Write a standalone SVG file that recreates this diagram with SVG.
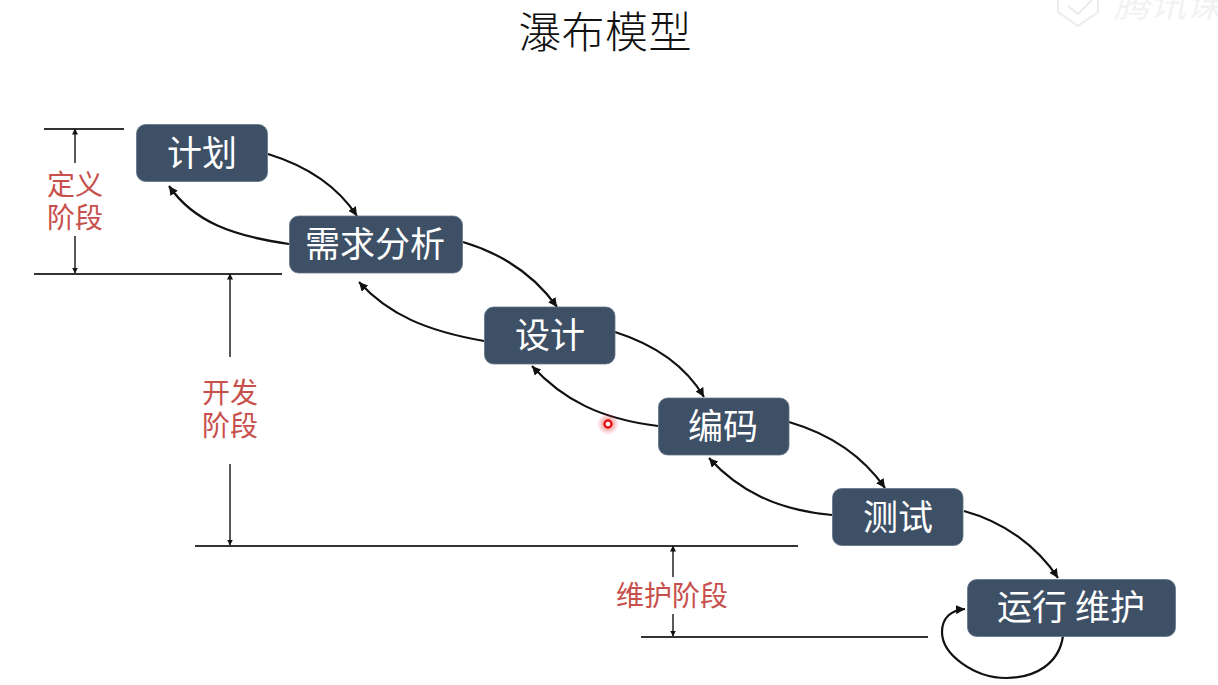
<svg xmlns="http://www.w3.org/2000/svg" width="1218" height="685" viewBox="0 0 1218 685">
<style>
text{font-family:"Noto Sans CJK SC","Liberation Sans",sans-serif}
.box{fill:#3d5066;stroke:#63758a;stroke-width:.8}
.nt{fill:#fff;font-size:35px;text-anchor:middle}
.lb{fill:#c8504c;font-size:28px;text-anchor:middle}
.con{fill:none;stroke:#111;stroke-width:2.2;marker-end:url(#a)}
.dim{fill:none;stroke:#222;stroke-width:1.5;marker-end:url(#b)}
.rule{fill:none;stroke:#333;stroke-width:1.8}
</style>
<defs>
<marker id="a" markerUnits="userSpaceOnUse" markerWidth="10" markerHeight="9" refX="9" refY="4.5" orient="auto"><path d="M0 0L9 4.5L0 9z" fill="#111"/></marker>
<marker id="b" markerUnits="userSpaceOnUse" markerWidth="6" markerHeight="6" refX="5.5" refY="3" orient="auto"><path d="M0 0L6 3L0 6z" fill="#111"/></marker>
<radialGradient id="g"><stop offset="0" stop-color="#f03030" stop-opacity=".7"/><stop offset="1" stop-color="#f03030" stop-opacity="0"/></radialGradient>
</defs>
<rect width="1218" height="685" fill="#fff"/>
<text id="title" x="605" y="48" font-size="43" letter-spacing=".4" font-weight="300" text-anchor="middle" fill="#111">瀑布模型</text>
<g id="watermark" fill="none" stroke="#ececec" stroke-width="2"><path d="M1058 0V12L1078 26L1098 12V0"/><path d="M1068 6L1078 14L1092 0"/>
<text x="1114" y="17" font-size="36" font-style="italic" fill="#f2f2f2" stroke="none">腾讯课</text></g>
<g id="connectors">
<path class="con" d="M268 154C307 166 338 187 357 216"/>
<path class="con" d="M289 244C233 236 194 222 169 186"/>
<path class="con" d="M463 242C503 254 535 276 557 307"/>
<path class="con" d="M484 341C427 331 389 315 359 282"/>
<path class="con" d="M615 332C653 344 685 365 704 397"/>
<path class="con" d="M658 426C601 419 563 400 532 366"/>
<path class="con" d="M789 422C830 434 862 455 885 488"/>
<path class="con" d="M832 515C777 510 739 491 709 458"/>
<path class="con" d="M964 511C1004 522 1037 546 1058 578"/>
<path class="con" d="M1063 636C1059 664 1035 678 1006 678C975 678 942 655 942 632C942 617 952 610 965 609"/>
</g>
<g id="dimensions">
<path class="rule" d="M44 129H124M34 274H282M195 546H798M641 637H928"/>
<path class="dim" d="M75 163V129"/>
<path class="dim" d="M75 236V273"/>
<path class="dim" d="M230 357V274"/>
<path class="dim" d="M230 464V545"/>
<path class="dim" d="M673 577V546"/>
<path class="dim" d="M673 614V636"/>
</g>
<g id="label-define"><text class="lb" x="75" y="195">定义</text><text class="lb" x="75" y="228">阶段</text></g>
<g id="label-develop"><text class="lb" x="230" y="403">开发</text><text class="lb" x="230" y="436">阶段</text></g>
<g id="label-maintain"><text class="lb" x="672" y="606">维护阶段</text></g>
<g id="n1"><rect class="box" x="136.500" y="124.500" width="131" height="57" rx="9"/><text class="nt" x="202" y="166">计划</text></g>
<g id="n2"><rect class="box" x="289.500" y="216" width="173" height="57" rx="9"/><text class="nt" x="375" y="257">需求分析</text></g>
<g id="n3"><rect class="box" x="484.500" y="307" width="130.500" height="57" rx="9"/><text class="nt" x="550" y="348">设计</text></g>
<g id="n4"><rect class="box" x="658.500" y="398" width="130.500" height="57" rx="9"/><text class="nt" x="723" y="439">编码</text></g>
<g id="n5"><rect class="box" x="832.500" y="488.500" width="130.500" height="57" rx="9"/><text class="nt" x="898" y="530">测试</text></g>
<g id="n6"><rect class="box" x="967.500" y="579.500" width="208" height="57" rx="9"/><text class="nt" x="1071" y="620">运行 维护</text></g>
<g id="pointer"><circle cx="608" cy="424" r="11" fill="url(#g)"/><circle cx="608" cy="424" r="3.500" fill="#fff" stroke="#e01818" stroke-width="2.400"/></g>
</svg>
